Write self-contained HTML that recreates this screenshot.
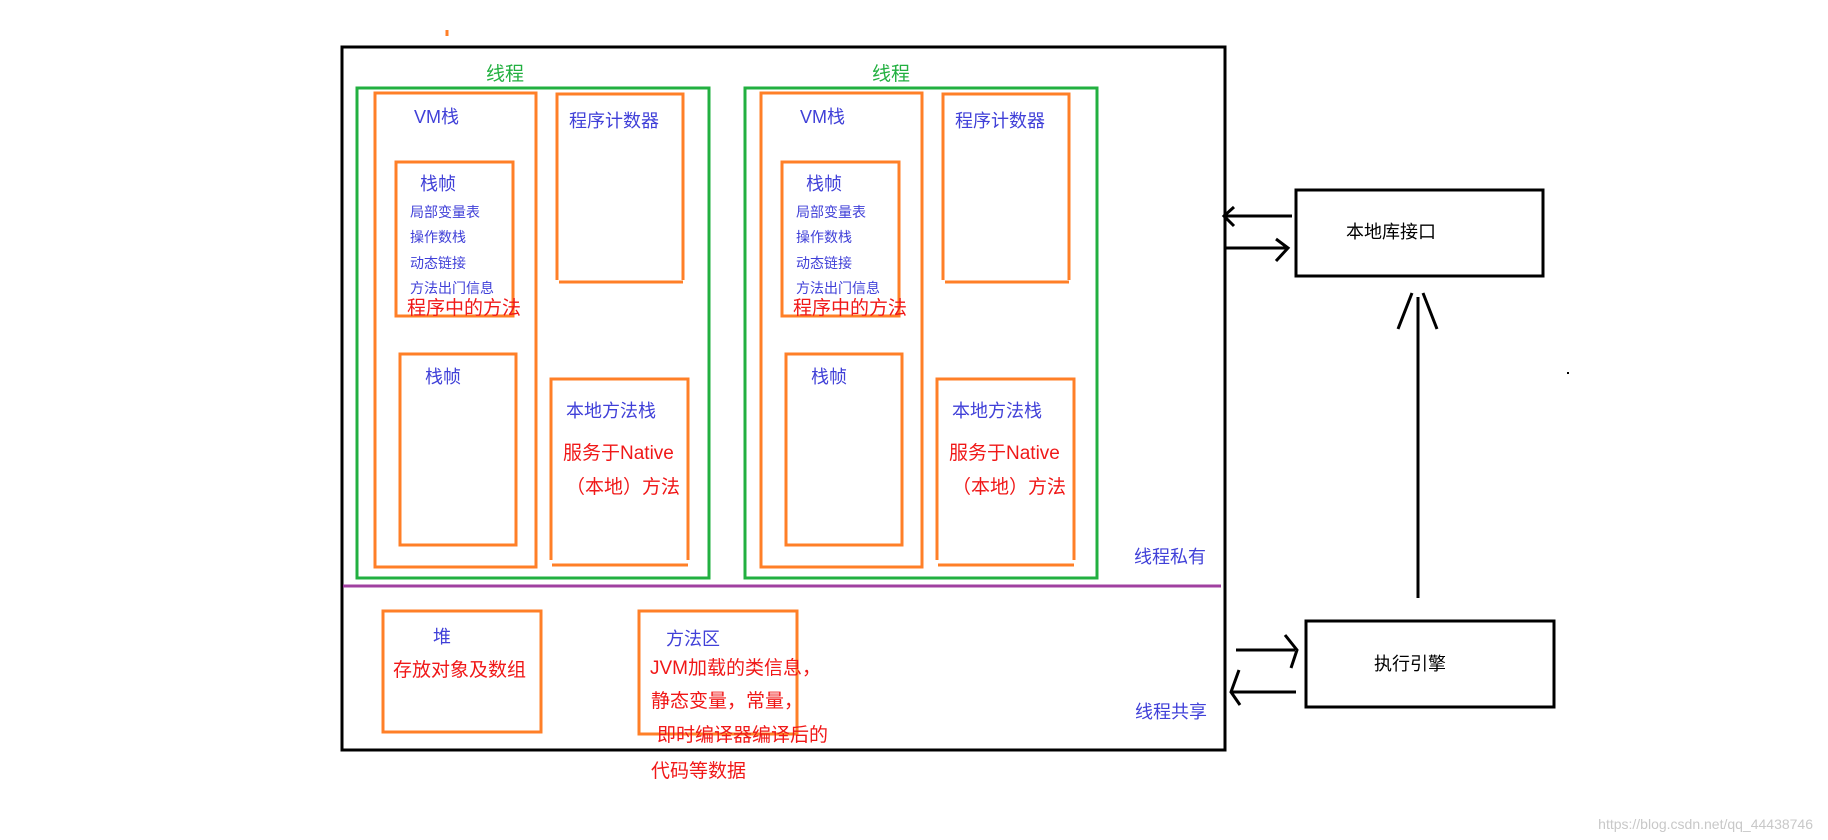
<!DOCTYPE html>
<html><head><meta charset="utf-8"><style>
html,body{margin:0;padding:0;background:#fff;width:1828px;height:840px;overflow:hidden}
svg text{font-family:"Liberation Sans","Noto Sans CJK SC",sans-serif}
.b{fill:#4040d8}.r{fill:#f01818}.g{fill:#22b040}.k{fill:#000}
</style></head><body>
<svg width="1828" height="840" xmlns="http://www.w3.org/2000/svg">
<g fill="none">
<rect x="342" y="47" width="883" height="703" stroke="#000" stroke-width="3"/>
<line x1="343" y1="586" x2="1221" y2="586" stroke="#a040a0" stroke-width="3"/>
<rect x="357" y="88" width="352" height="490" stroke="#22b040" stroke-width="3"/>
<rect x="745" y="88" width="352" height="490" stroke="#22b040" stroke-width="3"/>
<g stroke="#ff7f27" stroke-width="3">
<rect x="375" y="93" width="161" height="474"/>
<rect x="396" y="162" width="117" height="154"/>
<rect x="400" y="354" width="116" height="191"/>
<path d="M557 280V94H683V280M559 282H683"/>
<path d="M551 560V379H688V560M552 565H688"/>
<rect x="761" y="93" width="161" height="474"/>
<rect x="782" y="162" width="117" height="154"/>
<rect x="786" y="354" width="116" height="191"/>
<path d="M943 280V94H1069V280M945 282H1069"/>
<path d="M937 560V379H1074V560M938 565H1074"/>
<rect x="383" y="611" width="158" height="121"/>
<rect x="639" y="611" width="158" height="123"/>
<line x1="447" y1="30" x2="447" y2="36"/>
</g>
<rect x="1296" y="190" width="247" height="86" stroke="#000" stroke-width="3"/>
<rect x="1306" y="621" width="248" height="86" stroke="#000" stroke-width="3"/>
<g stroke="#000" stroke-width="3">
<path d="M1292 216H1223M1234 207L1224 216L1234 226"/>
<path d="M1226 248H1287M1276 239L1288 248L1276 261"/>
<path d="M1418 598V297M1398 329L1412 293M1437 329L1423 293"/>
<path d="M1236 650H1295M1285 635L1297 650L1291 668"/>
<path d="M1296 692H1232M1239 670L1231 692L1240 705"/>
</g>
<rect x="1567" y="372" width="2" height="2" fill="#000"/>
</g>
<text x="486" y="80" font-size="19" class="g">线程</text>
<text x="872" y="80" font-size="19" class="g">线程</text>
<g font-size="18" class="b">
<text x="414" y="123">VM栈</text><text x="800" y="123">VM栈</text>
<text x="420" y="190">栈帧</text><text x="806" y="190">栈帧</text>
<text x="425" y="383">栈帧</text><text x="811" y="383">栈帧</text>
<text x="569" y="127">程序计数器</text><text x="955" y="127">程序计数器</text>
<text x="566" y="417">本地方法栈</text><text x="952" y="417">本地方法栈</text>
<text x="433" y="643">堆</text>
<text x="666" y="645">方法区</text>
<text x="1134" y="563">线程私有</text>
<text x="1135" y="718">线程共享</text>
</g>
<g font-size="14" class="b">
<text x="410" y="217">局部变量表</text><text x="410" y="242">操作数栈</text><text x="410" y="268">动态链接</text><text x="410" y="293">方法出门信息</text>
<text x="796" y="217">局部变量表</text><text x="796" y="242">操作数栈</text><text x="796" y="268">动态链接</text><text x="796" y="293">方法出门信息</text>
</g>
<g font-size="19" class="r">
<text x="407" y="314">程序中的方法</text><text x="793" y="314">程序中的方法</text>
<text x="563" y="459">服务于Native</text><text x="949" y="459">服务于Native</text>
<text x="566" y="493">（本地）方法</text><text x="952" y="493">（本地）方法</text>
<text x="393" y="676">存放对象及数组</text>
<text x="650" y="674">JVM加载的类信息，</text>
<text x="651" y="707">静态变量，常量，</text>
<text x="657" y="741">即时编译器编译后的</text>
<text x="651" y="777">代码等数据</text>
</g>
<g font-size="18" class="k">
<text x="1346" y="238">本地库接口</text>
<text x="1374" y="670">执行引擎</text>
</g>
<text x="1813" y="829" font-size="14" fill="#c8c8c8" text-anchor="end">https://blog.csdn.net/qq_44438746</text>
</svg>
</body></html>
